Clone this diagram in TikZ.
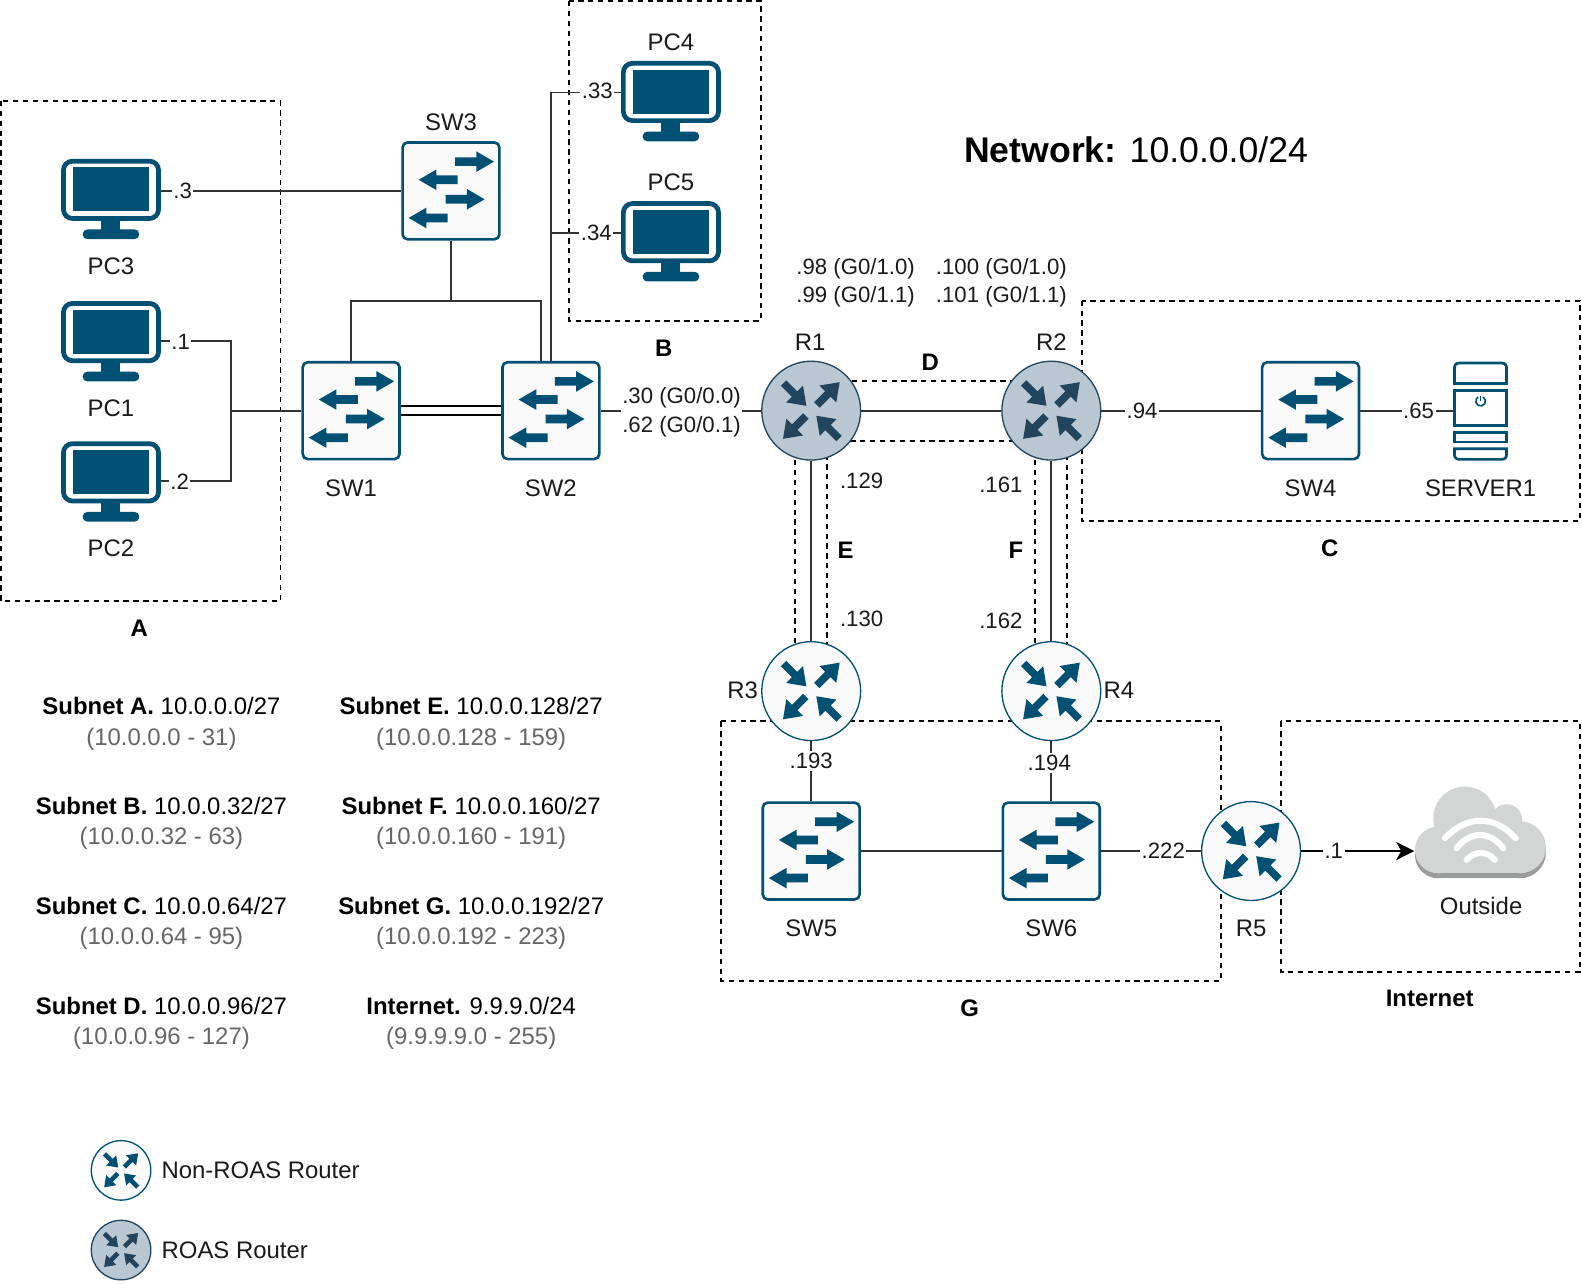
\documentclass[tikz,border=0pt]{standalone}
\usepackage{fontspec}
\setmainfont{Liberation Sans}
\usetikzlibrary{arrows.meta}
\pgfdeclarelayer{back}
\pgfsetlayers{back,main}
\definecolor{ciscoblue}{HTML}{005073}
\definecolor{roasline}{HTML}{23445D}
\definecolor{roasfill}{HTML}{BAC8D3}
\definecolor{iconfill}{HTML}{FAFAFA}
\definecolor{linecol}{HTML}{333333}
\definecolor{rangecol}{HTML}{666666}
\definecolor{cloudlight}{HTML}{D3D5D5}
\definecolor{clouddark}{HTML}{9A9C9C}
\definecolor{labelcol}{HTML}{1A1A1A}
\tikzset{
  x=1pt,y=-1pt,
  txt/.style={inner sep=0pt,font=\fontsize{23.7}{28}\selectfont,text height=17pt,text depth=0pt,text=labelcol},
  smalltxt/.style={inner sep=0pt,font=\fontsize{22}{28}\selectfont,text height=16pt,text depth=0pt,text=labelcol},
  btxt/.style={txt,font=\fontsize{23.7}{28}\selectfont\bfseries,text=black},
  ltxt/.style={txt,anchor=west},
  rangetxt/.style={txt,text=rangecol},
  edgetxt/.style={smalltxt,fill=white,inner xsep=1.5pt,inner ysep=2pt},
  conn/.style={draw=linecol,line width=1.7pt},
  boxdash/.style={draw=black,line width=1.9pt,dash pattern=on 5.2pt off 4.6pt},
  swnode/.style={rectangle,draw=ciscoblue,fill=iconfill,line width=2.6pt,rounded corners=5pt,minimum size=96pt,inner sep=0pt},
  rnode/.style={circle,draw=ciscoblue,fill=iconfill,line width=1.3pt,minimum size=98pt,inner sep=0pt},
  roasnode/.style={rnode,draw=roasline,fill=roasfill},
  pcnode/.style={rectangle,draw=ciscoblue,fill=white,line width=4.7pt,rounded corners=9pt,minimum width=94.3pt,minimum height=56.8pt,inner sep=0pt},
}
\newcommand\fatarr[8]{\path[fill=#8,shift={(#1,#2)},rotate=#3] (0,-#7) -- (#4-#5,-#7) -- (#4-#5,-#6) -- (#4,0) -- (#4-#5,#6) -- (#4-#5,#7) -- (0,#7) -- cycle;}
\newcommand\rtrarrows[4]{\begin{scope}[shift={(#1,#2)},scale=#3]
  \fatarr{-27.4}{-27.4}{-45}{32}{16.5}{11.8}{3.8}{#4}
  \fatarr{5.6}{-5.6}{45}{32}{16.5}{11.8}{3.8}{#4}
  \fatarr{-5.3}{5.3}{225}{32}{16.5}{11.8}{3.8}{#4}
  \fatarr{27.7}{27.7}{135}{32}{16.5}{11.8}{3.8}{#4}
\end{scope}}
\newcommand\swarrows[2]{\begin{scope}[shift={(#1,#2)}]
  \fatarr{4}{-29}{0}{38.6}{17.5}{10.2}{4.3}{ciscoblue}
  \fatarr{6.6}{-11}{180}{38.6}{17.5}{10.2}{4.3}{ciscoblue}
  \fatarr{-5.3}{8.3}{0}{38.6}{17.5}{10.2}{4.3}{ciscoblue}
  \fatarr{-3.3}{26.8}{180}{38.6}{17.5}{10.2}{4.3}{ciscoblue}
\end{scope}}
\newcommand\switchicon[3]{\node[swnode] (#1) at (#2,#3) {};\swarrows{#2}{#3}}
\newcommand\routericon[3]{\node[rnode] (#1) at (#2,#3) {};\rtrarrows{#2}{#3}{1}{ciscoblue}}
\newcommand\roasicon[3]{\node[roasnode] (#1) at (#2,#3) {};\rtrarrows{#2}{#3}{1}{roasline}}
\newcommand\monitoricon[3]{%
  \node[pcnode] (#1) at (#2,#3+30.75) {};
  \begin{scope}[shift={(#2,#3)}]
    \fill[ciscoblue] (-37.8,8.6) rectangle (37.8,52.2);
    \fill[ciscoblue] (-9.4,61) rectangle (9.4,72);
    \fill[ciscoblue,rounded corners=4.5pt] (-28,70) rectangle (28,79.6);
  \end{scope}}
\begin{document}
\begin{tikzpicture}
\useasboundingbox (0,0) rectangle (1568,1272.6);
\begin{pgfonlayer}{back}
  \fill[white] (0,0) rectangle (1568,1272.6);
  \path[boxdash] (1,100) rectangle (278,596);
  \path[boxdash] (564,1) rectangle (754,318);
  \path[boxdash] (1072,298) rectangle (1566,516.5);
  \path[boxdash] (804,377.5) rectangle (1042,436.7);
  \path[boxdash] (788,407) rectangle (819.6,685);
  \path[boxdash] (1025.8,407) rectangle (1057.6,685);
  \path[boxdash] (715,715) rectangle (1210,972);
  \path[boxdash] (1270,715) rectangle (1566,963);
\end{pgfonlayer}

% devices
\monitoricon{PC3}{110}{157.4}
\monitoricon{PC1}{110}{298.4}
\monitoricon{PC2}{110}{437.4}
\monitoricon{PC4}{665}{60.4}
\monitoricon{PC5}{665}{199.4}
\switchicon{SW3}{447}{189.2}
\switchicon{SW1}{348}{407}
\switchicon{SW2}{546}{407}
\switchicon{SW4}{1299}{407}
\switchicon{SW5}{804}{843.5}
\switchicon{SW6}{1042}{843.5}
\roasicon{R1}{804}{407}
\roasicon{R2}{1042}{407}
\routericon{R3}{804}{685}
\routericon{R4}{1042}{685}
\routericon{R5}{1240}{843.5}

% server
\node[rectangle,inner sep=0pt,minimum width=54.4pt,minimum height=98pt] (SERVER1) at (1467.4,407) {};
\begin{scope}[draw=ciscoblue,line width=2.7pt]
  \draw (1441.6,380.2) -- (1441.6,364.8) .. controls (1441.6,361.5) and (1443.3,359.8) .. (1446.6,359.8) -- (1488.2,359.8) .. controls (1491.5,359.8) and (1493.2,361.5) .. (1493.2,364.8) -- (1493.2,380.2) -- cycle;
  \draw (1441.6,387.2) rectangle (1493.2,421.6);
  \draw (1441.6,428.5) rectangle (1493.2,438.1);
  \draw (1441.6,444.7) -- (1441.6,450.3) .. controls (1441.6,453.6) and (1443.3,455.3) .. (1446.6,455.3) -- (1488.2,455.3) .. controls (1491.5,455.3) and (1493.2,453.6) .. (1493.2,450.3) -- (1493.2,444.7) -- cycle;
\end{scope}
\draw[ciscoblue,line width=1.6pt] (1467.5,397.6) ++(-60:4.8) arc (-60:240:4.8);
\draw[ciscoblue,line width=1.6pt] (1467.5,392) -- (1467.5,397.5);

% cloud
\node[rectangle,inner sep=0pt,minimum width=130pt,minimum height=60pt] (Outside) at (1467,843.5) {};
\begin{scope}[shift={(1159.6,753.2)},scale=0.33036]
  \fill[clouddark] (805,285) circle (70);
  \fill[clouddark] (1050,277) circle (78);
  \fill[clouddark] (805,215) rectangle (1050,355);
  \fill[cloudlight] (805,270) circle (70);
  \fill[cloudlight] (1050,262) circle (78);
  \fill[cloudlight] (805,200) rectangle (1050,340);
  \fill[cloudlight] (885,175) circle (95);
  \fill[cloudlight] (1010,180) circle (47);
  \draw[white,line width=6pt,line cap=round] (825,235) .. controls (890,165) and (975,165) .. (1037,235);
  \draw[white,line width=6pt,line cap=round] (860,265) .. controls (900,212) and (960,212) .. (1000,265);
  \draw[white,line width=6pt,line cap=round] (890,300) .. controls (915,272) and (950,272) .. (975,300);
\end{scope}

% junctions
\coordinate (jA) at (229,407);
\coordinate (jB) at (447,298);
\coordinate (jC) at (546,230.6);

% connectors
\draw[conn] ([yshift=-1pt]PC3.east) -- ([yshift=-1pt]PC3.east -| SW3.west);
\draw[conn] ([yshift=-8.8pt]PC1.east) -| (jA);
\draw[conn] ([yshift=-8.8pt]PC2.east) -| (jA);
\draw[conn] (jA) -- (SW1.west);
\draw[conn] (SW3.south) -- (jB);
\draw[conn] (jB) -| (SW1.north);
\draw[conn] (jB) -| ([xshift=-10pt]SW2.north);
\draw[conn] (SW2.north) |- ([yshift=-0.6pt]PC4.west);
\draw[conn] (jC) -- (jC -| PC5.west);
\draw[draw=black,line width=1.9pt,double=white,double distance=6.4pt] (SW1.east) -- (SW2.west);
\draw[conn] (SW2.east) -- (R1.west);
\draw[conn] (R1.east) -- (R2.west);
\draw[conn] (R2.east) -- (SW4.west);
\draw[conn] (SW4.east) -- (SERVER1.west);
\draw[conn] (R1.south) -- (R3.north);
\draw[conn] (R2.south) -- (R4.north);
\draw[conn] (R3.south) -- (SW5.north);
\draw[conn] (R4.south) -- (SW6.north);
\draw[conn] (SW5.east) -- (SW6.west);
\draw[conn] (SW6.east) -- (R5.west);
\draw[conn,-{Stealth[length=18pt,width=18pt,inset=5pt]},draw=black] (R5.east) -- (Outside.west);

% connector labels
\node[edgetxt] (e3) at (181,189) {.3};
\node[edgetxt] (e1) at (179,338) {.1};
\node[edgetxt] (e2) at (178,477) {.2};
\node[edgetxt] (e33) at (592,90) {.33};
\node[edgetxt] (e34) at (591,230) {.34};
\node[fill=white,inner xsep=1.5pt,inner ysep=0pt,align=center,font=\fontsize{22}{28}\selectfont,text=labelcol] (e30) at (675.5,408.5) {.30 (G0/0.0)\\.62 (G0/0.1)};
\node[edgetxt] (e94) at (1132,407) {.94};
\node[edgetxt] (e65) at (1406,407) {.65};
\node[edgetxt] (e193) at (804,754) {.193};
\node[edgetxt] (e194) at (1040,756) {.194};
\node[edgetxt] (e222) at (1153,843) {.222};
\node[edgetxt] (e1b) at (1322,843) {.1};

% device names
\node[txt] (lPC3) at (110,263.5) {PC3};
\node[txt] (lPC1) at (110,404) {PC1};
\node[txt] (lPC2) at (110,543) {PC2};
\node[txt] (lPC4) at (665,41.5) {PC4};
\node[txt] (lPC5) at (665,180) {PC5};
\node[txt] (lSW3) at (447,121) {SW3};
\node[txt] (lSW1) at (348,484) {SW1};
\node[txt] (lSW2) at (546,484) {SW2};
\node[txt] (lSW4) at (1299,484) {SW4};
\node[txt] (lSRV) at (1467.5,484) {SERVER1};
\node[txt] (lR1) at (803,339) {R1};
\node[txt] (lR2) at (1042,339) {R2};
\node[txt] (lR3) at (736,684) {R3};
\node[txt] (lR4) at (1109,684) {R4};
\node[txt] (lR5) at (1240,920) {R5};
\node[txt] (lSW5) at (804,920) {SW5};
\node[txt] (lSW6) at (1042,920) {SW6};
\node[txt] (lOut) at (1468,898) {Outside};

% address labels
\node[smalltxt] (a1) at (848,264) {.98 (G0/1.0)};
\node[smalltxt] (a2) at (848,292) {.99 (G0/1.1)};
\node[smalltxt] (a3) at (992.5,264) {.100 (G0/1.0)};
\node[smalltxt] (a4) at (992.5,292) {.101 (G0/1.1)};
\node[smalltxt] (a5) at (854,476) {.129};
\node[smalltxt] (a6) at (992,480) {.161};
\node[smalltxt] (a7) at (854,613) {.130};
\node[smalltxt] (a8) at (992,615) {.162};

% subnet letters
\node[btxt] (sA) at (138,622.5) {A};
\node[btxt] (sB) at (658,345) {B};
\node[btxt] (sC) at (1318,543) {C};
\node[btxt] (sD) at (922,359) {D};
\node[btxt] (sE) at (838,545) {E};
\node[btxt] (sF) at (1007,545) {F};
\node[btxt] (sG) at (961,999) {G};
\node[btxt] (sI) at (1417,989.5) {Internet};

% title
\node[inner sep=0pt,text=black,font=\fontsize{35.3}{40}\selectfont] (title) at (1126,148) {\textbf{Network:} 10.0.0.0/24};

% subnet table
\node[txt,text=black] (t1) at (160,700) {\textbf{Subnet A.} 10.0.0.0/27};
\node[rangetxt] (r1) at (160,730) {(10.0.0.0 - 31)};
\node[txt,text=black] (t2) at (160,799) {\textbf{Subnet B.} 10.0.0.32/27};
\node[rangetxt] (r2) at (160,829) {(10.0.0.32 - 63)};
\node[txt,text=black] (t3) at (160,898) {\textbf{Subnet C.} 10.0.0.64/27};
\node[rangetxt] (r3) at (160,928) {(10.0.0.64 - 95)};
\node[txt,text=black] (t4) at (160,997) {\textbf{Subnet D.} 10.0.0.96/27};
\node[rangetxt] (r4) at (160,1027) {(10.0.0.96 - 127)};
\node[txt,text=black] (t5) at (467,700) {\textbf{Subnet E.} 10.0.0.128/27};
\node[rangetxt] (r5) at (467,730) {(10.0.0.128 - 159)};
\node[txt,text=black] (t6) at (467,799) {\textbf{Subnet F.} 10.0.0.160/27};
\node[rangetxt] (r6) at (467,829) {(10.0.0.160 - 191)};
\node[txt,text=black] (t7) at (467,898) {\textbf{Subnet G.} 10.0.0.192/27};
\node[rangetxt] (r7) at (467,928) {(10.0.0.192 - 223)};
\node[txt,text=black] (t8) at (467,997) {\textbf{Internet.} 9.9.9.0/24};
\node[rangetxt] (r8) at (467,1027) {(9.9.9.9.0 - 255)};

% legend
\node[rnode,minimum size=59pt] (L1) at (120,1160) {};
\rtrarrows{120}{1160}{0.6}{ciscoblue}
\node[roasnode,minimum size=59pt] (L2) at (120,1239) {};
\rtrarrows{120}{1239}{0.6}{roasline}
\node[ltxt] (L1t) at (160,1160) {Non-ROAS Router};
\node[ltxt] (L2t) at (160,1239) {ROAS Router};
\end{tikzpicture}
\end{document}
